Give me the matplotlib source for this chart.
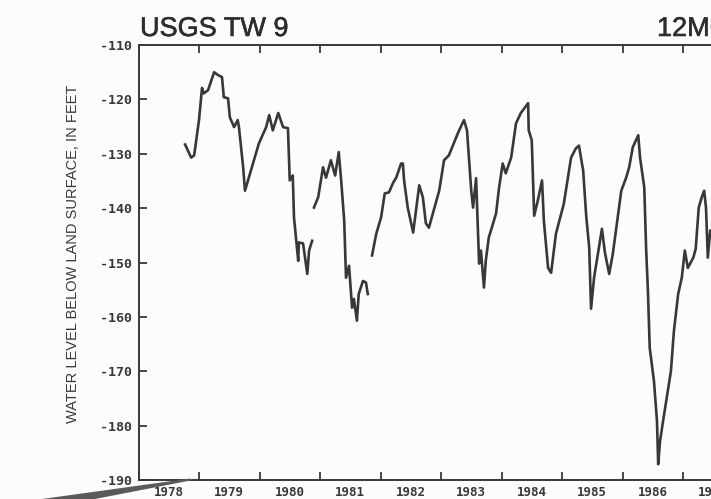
import numpy as np
import matplotlib
matplotlib.use("Agg")
import matplotlib.pyplot as plt
import matplotlib.patheffects as pe
from matplotlib.patches import Polygon

# Water level record, well USGS TW 9 (decimal year, feet relative to land surface).
# NaN marks breaks in the record.
years = [
    1978.77, 1978.87, 1978.92, 1979.00, 1979.05, 1979.08, 1979.15, 1979.25,
    1979.31, 1979.38, 1979.41, 1979.48, 1979.51, 1979.58, 1979.64, 1979.66,
    1979.73, 1979.76, 1979.81, 1979.89, 1979.99, 1980.11, 1980.16, 1980.22,
    1980.31, 1980.39, 1980.47, 1980.50, 1980.55, 1980.57, 1980.64, 1980.65,
    1980.72, 1980.79, 1980.82, 1980.87, 1980.88, 1980.90, 1980.97, 1981.05,
    1981.10, 1981.18, 1981.25, 1981.31, 1981.35, 1981.40, 1981.43, 1981.48,
    1981.53, 1981.56, 1981.61, 1981.64, 1981.71, 1981.76, 1981.79, 1981.82,
    1981.86, 1981.93, 1982.01, 1982.07, 1982.14, 1982.21, 1982.26, 1982.34,
    1982.37, 1982.39, 1982.45, 1982.54, 1982.64, 1982.70, 1982.75, 1982.80,
    1982.97, 1983.05, 1983.13, 1983.28, 1983.38, 1983.43, 1983.50, 1983.53,
    1983.58, 1983.63, 1983.66, 1983.71, 1983.74, 1983.79, 1983.91, 1983.96,
    1984.02, 1984.07, 1984.16, 1984.24, 1984.32, 1984.44, 1984.45, 1984.50,
    1984.54, 1984.60, 1984.67, 1984.70, 1984.77, 1984.82, 1984.90, 1985.03,
    1985.15, 1985.23, 1985.28, 1985.35, 1985.40, 1985.45, 1985.48, 1985.53,
    1985.61, 1985.66, 1985.71, 1985.78, 1985.84, 1985.93, 1985.98, 1986.06,
    1986.11, 1986.17, 1986.26, 1986.29, 1986.36, 1986.39, 1986.42, 1986.45,
    1986.52, 1986.57, 1986.59, 1986.62, 1986.67, 1986.74, 1986.80, 1986.85,
    1986.92, 1986.98, 1987.03, 1987.08, 1987.17, 1987.21, 1987.26, 1987.31,
    1987.35, 1987.38, 1987.41, 1987.45, 1987.48,
]
levels = [
    -128.3, -130.7, -130.3, -123.8, -117.9, -118.9, -118.3, -115.0,
    -115.5, -115.9, -119.6, -119.8, -123.3, -125.1, -123.8, -125.1,
    -132.5, -136.8, -134.9, -131.8, -128.1, -125.1, -122.9, -125.7,
    -122.5, -125.1, -125.3, -134.9, -134.0, -141.7, -149.7, -146.3,
    -146.5, -152.1, -147.8, -146.0, np.nan, -139.9, -138.0, -132.5,
    -134.4, -131.2, -134.0, -129.7, -134.9, -142.3, -152.8, -150.6,
    -158.3, -156.7, -160.7, -155.8, -153.4, -153.7, -155.8, np.nan,
    -148.7, -144.7, -141.7, -137.3, -137.1, -135.3, -134.4, -131.8,
    -131.8, -134.9, -139.9, -144.5, -135.8, -138.0, -142.8, -143.6,
    -136.8, -131.2, -130.3, -126.2, -123.8, -125.7, -136.8, -139.9,
    -134.5, -150.2, -147.8, -154.6, -149.7, -145.4, -141.0, -136.2,
    -131.8, -133.6, -130.7, -124.4, -122.5, -120.7, -125.7, -127.5,
    -141.4, -138.6, -134.9, -142.3, -151.0, -151.9, -144.7, -139.2,
    -130.7, -129.0, -128.5, -133.1, -141.4, -147.3, -158.5, -152.8,
    -147.3, -143.8, -148.2, -152.1, -148.4, -141.0, -136.8, -134.4,
    -132.5, -128.8, -126.6, -130.7, -136.2, -147.3, -155.2, -165.7,
    -171.8, -179.2, -187.1, -182.9, -179.2, -174.2, -170.0, -162.6,
    -155.8, -152.8, -147.8, -151.0, -149.1, -147.5, -139.9, -138.0,
    -136.8, -139.9, -149.1, -144.1, -145.4,
]

year_labels = [str(y) for y in range(1978, 1988)]
y_ticks = list(range(-190, -109, 10))

INK = "#383838"
MONO = "DejaVu Sans Mono"

fig = plt.figure(figsize=(7.11, 4.99), dpi=100)
fig.patch.set_facecolor("#fcfcfa")

# axis runs past the right edge of the sheet
W, H = 711, 499
x0, x1, ytop, ybot = 138.5, 138.5 + 60.5 * 10, 45, 480
ax = fig.add_axes([x0 / W, (H - ybot) / H, (x1 - x0) / W, (ybot - ytop) / H])
ax.set_facecolor("none")

ax.plot(years, levels, color=INK, lw=1.9, solid_joinstyle="round")

ax.set_xlim(1978, 1988)
ax.set_ylim(-190, -110)

for side in ["left", "top", "bottom", "right"]:
    ax.spines[side].set_color(INK)
    ax.spines[side].set_linewidth(1.4)

# year boundaries as inward ticks, labels centred on each year
ax.set_xticks(range(1978, 1989))
ax.set_xticklabels([])
ax.set_xticks([y + 0.5 for y in range(1978, 1988)], minor=True)
ax.set_xticklabels(year_labels, minor=True)
ax.tick_params(axis="x", which="major", direction="in", top=True, bottom=True,
               length=5.5, width=1.3, color=INK)
ax.tick_params(axis="x", which="minor", length=0, pad=4, labelsize=9,
               labelcolor=INK)

ax.set_yticks(y_ticks)
ax.set_yticklabels([f"{v}" for v in y_ticks])
ax.tick_params(axis="y", direction="in", length=6, width=1.3, color=INK,
               pad=5, labelsize=9.5, labelcolor=INK)

for lab in ax.get_xticklabels(minor=True) + ax.get_yticklabels():
    lab.set_family(MONO)
    lab.set_fontweight("bold")

fig.text(73 / W, 1 - 254 / H, "WATER LEVEL BELOW LAND SURFACE, IN FEET",
         rotation=90, ha="center", va="center", fontsize=10.5,
         family="Liberation Sans", color=INK)

heavy = [pe.withStroke(linewidth=0.4, foreground="#2e2e2e")]
fig.text(140 / W, 1 - 36 / H, "USGS TW 9", ha="left", va="baseline",
         fontsize=19.5, family="Liberation Sans", color="#2e2e2e",
         path_effects=heavy)
fig.text(657 / W, 1 - 36 / H, "12MO", ha="left", va="baseline",
         fontsize=19.5, family="Liberation Sans", color="#2e2e2e",
         path_effects=heavy)

# pencil streak across the lower left corner of the sheet
streak = Polygon([(42 / W, 0), (190 / W, 1 - 478.5 / H), (193 / W, 1 - 480 / H),
                  (95 / W, 0)], closed=True, transform=fig.transFigure,
                 facecolor="#5a5a5a", edgecolor="none")
fig.patches.append(streak)

fig.savefig("out.png", dpi=100, facecolor=fig.get_facecolor())
